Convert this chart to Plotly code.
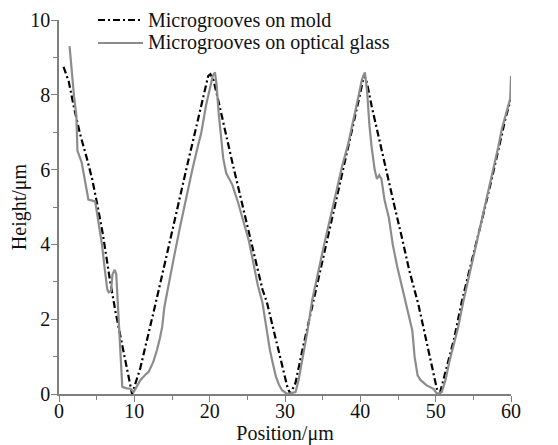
import plotly.graph_objects as go

# Microgrooves on mold (dash-dot black)
mold_x = [0.6, 1.3, 2.0, 2.8, 3.7, 4.4, 5.0, 5.8, 6.8, 7.5, 8.6, 9.2, 9.7,
          10.8, 11.9, 12.8, 14.0, 15.0, 16.0, 17.0, 18.0, 19.0, 19.8, 20.1,
          20.5, 21.2, 22.0, 23.0, 24.0, 25.0, 26.0, 27.0, 27.6, 28.5, 29.4,
          30.3, 30.7, 31.4, 32.3, 33.8, 35.0, 36.0, 37.0, 38.0, 39.0, 40.0,
          40.5, 40.9, 41.5, 42.5, 43.5, 44.5, 45.5, 46.5, 47.7, 48.8, 49.7,
          50.2, 50.6, 51.5, 52.4, 53.5, 54.5, 55.5, 56.5, 57.5, 58.5, 59.3, 60.0]
mold_y = [8.75, 8.35, 7.65, 6.95, 6.3, 5.75, 5.15, 4.3, 3.0, 2.2, 1.1, 0.45, 0.0,
          0.7, 1.6, 2.4, 3.45, 4.35, 5.2, 6.1, 6.95, 7.8, 8.5, 8.55,
          8.4, 7.8, 7.05, 6.2, 5.35, 4.5, 3.65, 2.8, 2.45, 1.7, 0.9,
          0.2, 0.0, 0.3, 1.17, 2.5, 3.55, 4.45, 5.35, 6.25, 7.15, 8.05,
          8.55, 8.3, 7.7, 6.8, 5.95, 5.05, 4.2, 3.3, 2.4, 1.35, 0.55,
          0.1, 0.05, 0.73, 1.44, 2.5, 3.3, 4.1, 4.95, 5.8, 6.7, 7.4, 7.9]

# Microgrooves on optical glass (solid grey)
glass_x = [1.4, 1.7, 2.0, 2.3, 2.45, 3.0, 3.6, 3.9, 4.8, 5.2, 5.7, 6.1, 6.4,
           6.6, 6.9, 7.1, 7.4, 7.6, 7.8, 7.9, 8.2, 8.4, 9.0, 9.5, 9.9, 10.3,
           10.8, 11.4, 11.9, 12.5, 13.0, 13.4, 13.7, 14.0, 14.6, 15.3, 16.1,
           16.9, 17.7, 18.4, 18.9, 19.5, 20.0, 20.4, 20.7, 20.9, 21.2, 21.5,
           21.8, 22.2, 22.6, 23.0, 23.8, 24.5, 25.2, 25.8, 26.4, 27.0, 27.5,
           28.0, 28.4, 28.8, 29.2, 29.6, 30.3, 31.0, 31.4, 31.8, 32.2, 32.5,
           33.0, 33.6, 34.4, 35.2, 36.0, 36.8, 37.6, 38.4, 39.2, 39.8, 40.2,
           40.6, 40.9, 41.2, 41.5, 41.9, 42.2, 42.5, 42.8, 43.2, 43.8, 44.3,
           44.9, 45.5, 46.0, 46.5, 46.9, 47.2, 47.6, 48.0, 48.8, 49.7, 50.2,
           50.8, 51.3, 51.8, 52.4, 53.0, 53.7, 54.5, 55.3, 56.1, 56.9, 57.7,
           58.3, 58.8, 59.4, 59.9, 60.0]
glass_y = [9.3, 8.6, 7.95, 7.45, 6.5, 6.2, 5.45, 5.2, 5.15, 4.6, 4.0, 3.3, 2.8,
           2.72, 2.75, 3.2, 3.32, 3.2, 2.4, 1.9, 1.0, 0.19, 0.15, 0.14, 0.05, 0.2,
           0.37, 0.5, 0.59, 0.85, 1.17, 1.5, 1.8, 2.34, 3.0, 3.7, 4.5,
           5.3, 6.0, 6.6, 7.0, 7.7, 8.2, 8.5, 8.6, 8.3, 7.5, 6.9,
           6.3, 5.9, 5.75, 5.6, 5.1, 4.6, 4.1, 3.5, 2.9, 2.45, 1.8,
           1.17, 0.8, 0.46, 0.25, 0.1, 0.0, 0.03, 0.05, 0.37, 0.8, 1.17,
           1.7, 2.5, 3.3, 4.0, 4.7, 5.4, 6.1, 6.7, 7.4, 8.0, 8.4,
           8.6, 8.1, 7.2, 6.6, 6.0, 5.75, 5.85, 5.75, 5.2, 4.7, 4.0,
           3.4, 2.9, 2.5, 2.1, 1.7, 1.0, 0.5, 0.37, 0.23, 0.14, 0.0,
           0.05, 0.37, 0.85, 1.35, 1.8, 2.5, 3.2, 3.9, 4.6, 5.3, 6.0,
           6.6, 7.1, 7.5, 7.9, 8.5]

series_names = ["Microgrooves on mold", "Microgrooves on optical glass"]
x_ticks = [0, 10, 20, 30, 40, 50, 60]
y_ticks = [0, 2, 4, 6, 8, 10]

FONT = "'Times New Roman', 'Liberation Serif', serif"
AXIS_COLOR = "#7f7f7f"
MOLD_LINE = dict(color="#000000", width=2.2, dash="7px,3px,2px,3px")
GLASS_LINE = dict(color="#8c8c8c", width=2.2)

# The page body adds an 8px margin, so the figure is sized to fill the rest.
FIG_W, FIG_H = 550, 437
M_L, M_R, M_T, M_B = 51, 47, 0, 51
PLOT_TOP = 12  # px from figure top to the y=10 line
paper_w = FIG_W - M_L - M_R
paper_h = FIG_H - M_T - M_B

fig = go.Figure()
fig.add_trace(go.Scatter(x=mold_x, y=mold_y, mode="lines",
                         name=series_names[0], line=MOLD_LINE))
fig.add_trace(go.Scatter(x=glass_x, y=glass_y, mode="lines",
                         name=series_names[1], line=GLASS_LINE))

# Legend drawn as line samples + text (keeps the original compact spacing)
def px_x(px):
    return (px - M_L) / paper_w

def px_y(px):
    return (paper_h - px) / paper_h

legend_rows = [(12, MOLD_LINE), (35, GLASS_LINE)]
for (row_y, style), name in zip(legend_rows, series_names):
    fig.add_shape(type="line", xref="paper", yref="paper",
                  x0=px_x(90), x1=px_x(135), y0=px_y(row_y), y1=px_y(row_y),
                  line=style)
    fig.add_annotation(text=name, xref="paper", yref="paper",
                       x=px_x(138), y=px_y(row_y), xanchor="left",
                       yanchor="middle", showarrow=False,
                       font=dict(family=FONT, size=20, color="#111111"))

fig.update_layout(
    width=FIG_W, height=FIG_H,
    margin=dict(l=M_L, r=M_R, t=M_T, b=M_B),
    paper_bgcolor="white", plot_bgcolor="white",
    font=dict(family=FONT, size=20, color="#111111"),
    showlegend=False,
    xaxis=dict(
        range=[0, 60], tickvals=x_ticks, ticktext=[str(v) for v in x_ticks],
        showgrid=False, zeroline=False, showline=True, linecolor=AXIS_COLOR,
        linewidth=1.5, ticks="outside", ticklen=6, tickcolor=AXIS_COLOR,
        tickwidth=1.2, automargin=False, ticklabelstandoff=-8,
        minor=dict(ticks="outside", dtick=5, ticklen=4, tickcolor=AXIS_COLOR,
                   showgrid=False),
        title=dict(text="Position/μm", standoff=0, font=dict(size=20)),
        tickfont=dict(size=20),
    ),
    yaxis=dict(
        range=[0, 10], tickvals=y_ticks, ticktext=[str(v) for v in y_ticks],
        domain=[0, (paper_h - PLOT_TOP) / paper_h],
        showgrid=False, zeroline=False, showline=True, linecolor=AXIS_COLOR,
        linewidth=1.5, ticks="outside", ticklen=6, tickcolor=AXIS_COLOR,
        tickwidth=1.2, automargin=False, ticklabelstandoff=-3,
        minor=dict(ticks="outside", dtick=1, ticklen=4, tickcolor=AXIS_COLOR,
                   showgrid=False),
        title=dict(text="Height/μm", standoff=8, font=dict(size=20)),
        tickfont=dict(size=20),
    ),
)

fig.write_html("out.html")
